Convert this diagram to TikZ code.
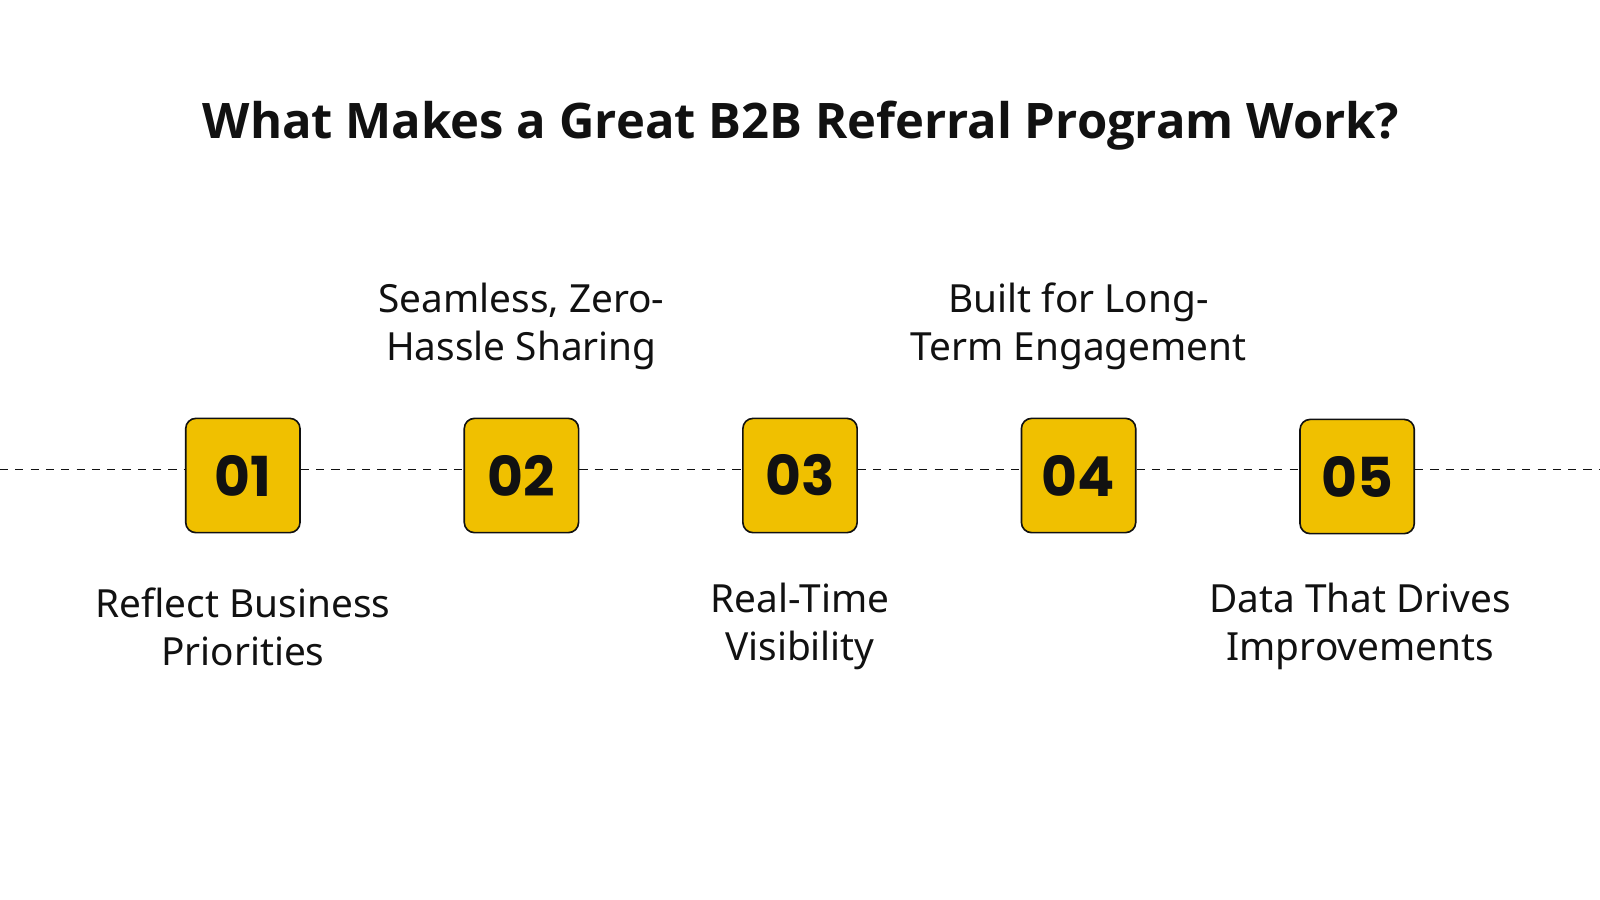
\documentclass[tikz,border=0pt]{standalone}
\usepackage{fontspec}
\setmainfont{Noto Sans}
\newfontfamily\numfont{Poppins}
\newfontfamily\titlefont{Open Sans}
\definecolor{gold}{HTML}{F0C000}
\definecolor{ink}{HTML}{111111}
\begin{document}
\begin{tikzpicture}[x=0.5pt,y=-0.5pt,
  numbox/.style={draw=ink,line width=0.8pt,fill=gold,rounded corners=5pt,minimum width=56pt,minimum height=56pt,inner sep=0pt,font=\numfont\bfseries\fontsize{27}{27}\selectfont,text=ink},
  lbl/.style={align=center,font=\fontsize{19}{23.5}\selectfont,text=ink},
  link/.style={dashed,dash pattern=on 4pt off 3.5pt,line width=0.8pt,draw=ink}]
\useasboundingbox (0,0) rectangle (1568,882);
\node[font=\titlefont\bfseries\fontsize{24}{28}\selectfont,text=ink] (title) at (785,123) {What Makes a Great B2B Referral Program Work?};
\coordinate (w) at (0,460);
\coordinate (e) at (1568,460);
\node[numbox] (b1) at (238,466) {01};
\node[numbox] (b2) at (511,466) {02};
\node[numbox] (b3) at (784,466) {03};
\node[numbox] (b4) at (1057,466) {04};
\node[numbox] (b5) at (1330,467) {05};
\draw[link] (w) -- (w -| b1.west);
\draw[link] (b1.east |- w) -- (b2.west |- w);
\draw[link] (b2.east |- w) -- (b3.west |- w);
\draw[link] (b3.east |- w) -- (b4.west |- w);
\draw[link] (b4.east |- w) -- (b5.west |- w);
\draw[link] (b5.east |- w) -- (e);
\node[lbl] (t1) at (238,614) {Reflect Business\\Priorities};
\node[lbl] (t2) at (511,320) {Seamless, Zero-\\Hassle Sharing};
\node[lbl] (t3) at (784,614) {Real-Time\\Visibility};
\node[lbl] (t4) at (1057,320) {Built for Long-\\Term Engagement};
\node[lbl] (t5) at (1333,614) {Data That Drives\\Improvements};
\end{tikzpicture}
\end{document}
